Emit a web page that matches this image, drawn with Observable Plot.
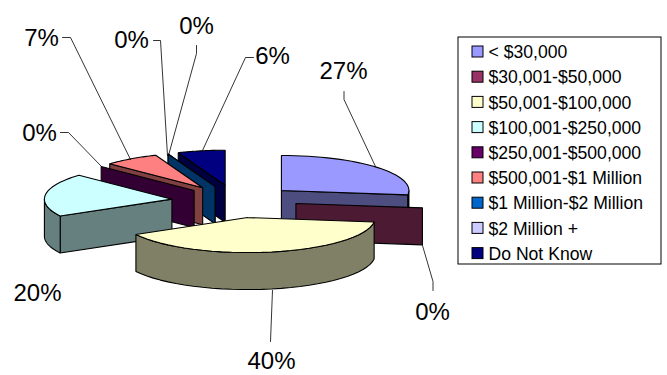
<!DOCTYPE html>
<html>
<head>
<meta charset="utf-8">
<script src="https://cdn.jsdelivr.net/npm/d3@7"></script>
<script src="https://cdn.jsdelivr.net/npm/@observablehq/plot@0.6"></script>
<style>
  html, body { margin: 0; padding: 0; background: #fff; }
  svg { display: block; }
</style>
</head>
<body>
<div id="chart"></div>
<script>
// Income bracket shares, clockwise from twelve o'clock.
const categories = ["< $30,000", "$30,001-$50,000", "$50,001-$100,000", "$100,001-$250,000",
  "$250,001-$500,000", "$500,001-$1 Million", "$1 Million-$2 Million", "$2 Million +", "Do Not Know"];
const shares = [27, 0, 40, 20, 0, 7, 0, 0, 6];
const legendColors = ["#9999FF", "#993366", "#FFFFCC", "#CCFFFF", "#660066", "#FF8080", "#0066CC", "#CCCCFF", "#000080"];
const wallColors = ["#4D4D80", "#4D1A33", "#808066", "#668080", "#330033", "#804040", "#003366", "#666680", "#000040"];

// Projection of the tilted pie.
const centerX = 235.9, centerY = 200.9, radiusX = 127.5, radiusY = 35, depth = 37;
const explosion = [60, 60, 60, 65, 58, 60, 58, 58, 60];
// Painter's order: the back slices first.
const paintOrder = [8, 7, 6, 5, 4, 3, 0, 1, 2];

// Data label positions and their leader lines, in slice order.
const labelSpots = [
  {i: 0, x: 343, y: 71, path: [[343.5, 91], [343.5, 99], [375, 166]]},
  {i: 1, x: 432, y: 312, path: [[422, 245], [432.5, 281], [432.5, 290]]},
  {i: 2, x: 271, y: 361, path: [[272, 290], [270, 341]]},
  {i: 3, x: 37, y: 293, path: []},
  {i: 4, x: 39, y: 133, path: [[60, 132], [68, 132], [101, 166]]},
  {i: 5, x: 41, y: 38, path: [[62, 37], [70, 37], [130, 159]]},
  {i: 6, x: 131, y: 40, path: [[153, 40], [160, 40], [167, 155]]},
  {i: 7, x: 196, y: 26, path: [[196, 45], [196, 53], [168, 155]]},
  {i: 8, x: 272, y: 56, path: [[253, 57], [245, 57], [202, 150]]}
];

const legendBox = {x1: 458, x2: 661, y1: 37, y2: 264};
const legendTop = 52, legendStep = 25.2;

const rad = d => d * Math.PI / 180;
const rim = (apex, a, drop = 0) => [apex[0] + radiusX * Math.sin(rad(a)), apex[1] - radiusY * Math.cos(rad(a)) + drop];
const sweep = (a0, a1) => d3.range(0, 33).map(k => a0 + (a1 - a0) * k / 32);

// Turn the shares into projected polygons for each slice.
const cumulative = d3.cumsum(shares);
const polygons = [];
function addPolygon(key, fill, points) {
  [...points, points[0]].forEach((p, order) => polygons.push({key, fill, x: p[0], y: p[1], order}));
}
for (const i of paintOrder) {
  const a0 = (cumulative[i] - shares[i]) * 3.6, a1 = cumulative[i] * 3.6, mid = (a0 + a1) / 2;
  const apex = [centerX + explosion[i] * Math.sin(rad(mid)),
                centerY - explosion[i] * Math.cos(rad(mid)) * radiusY / radiusX];
  const wall = (a) => {
    const e = rim(apex, a);
    addPolygon(`${i}-wall-${a}`, wallColors[i], [apex, e, [e[0], e[1] + depth], [apex[0], apex[1] + depth]]);
  };
  if (a0 > 180 && a0 < 360) wall(a0);
  if (a1 > 0 && a1 < 180) wall(a1);
  // Outer rim, only where it faces the viewer.
  const f0 = Math.max(a0, 90), f1 = Math.min(a1, 270);
  if (f1 > f0) {
    const s = sweep(f0, f1);
    addPolygon(`${i}-rim`, wallColors[i], [...s.map(a => rim(apex, a)), ...s.reverse().map(a => rim(apex, a, depth))]);
  }
  if (shares[i] > 0) {
    addPolygon(`${i}-top`, legendColors[i], [apex, ...sweep(a0, a1).map(a => rim(apex, a))]);
  }
}

const leaders = labelSpots.flatMap(s => s.path.map(p => ({i: s.i, x: p[0], y: p[1]})));
const legendRows = categories.map((name, i) => ({name, fill: legendColors[i], y: legendTop + i * legendStep}));
const font = "'Liberation Sans', Arial, sans-serif";

const plot = Plot.plot({
  width: 667,
  height: 375,
  margin: 0,
  style: {background: "#fff"},
  x: {domain: [0, 667], range: [0, 667], axis: null},
  y: {domain: [0, 375], range: [0, 375], axis: null},
  color: {type: "identity"},
  marks: [
    Plot.line(polygons, {x: "x", y: "y", z: "key", fill: "fill", stroke: "#000", strokeWidth: 1.1, strokeLinejoin: "miter", curve: "linear"}),
    Plot.line(leaders, {x: "x", y: "y", z: "i", stroke: "#000", strokeWidth: 0.8, curve: "linear"}),
    Plot.text(labelSpots, {x: "x", y: "y", text: d => `${shares[d.i]}%`, fontSize: 24, fontFamily: font, fill: "#000", textAnchor: "middle", lineAnchor: "middle"}),
    Plot.rect([legendBox], {x1: "x1", x2: "x2", y1: "y1", y2: "y2", fill: "#fff", stroke: "#000", strokeWidth: 1}),
    Plot.rect(legendRows, {x1: () => 472, x2: () => 483, y1: d => d.y - 6, y2: d => d.y + 5, fill: "fill", stroke: "#000", strokeWidth: 1}),
    Plot.text(legendRows, {x: () => 488, y: "y", text: "name", fontSize: 17.6, fontFamily: font, fill: "#000", textAnchor: "start", lineAnchor: "middle"})
  ]
});
document.getElementById("chart").appendChild(plot);
</script>
</body>
</html>
